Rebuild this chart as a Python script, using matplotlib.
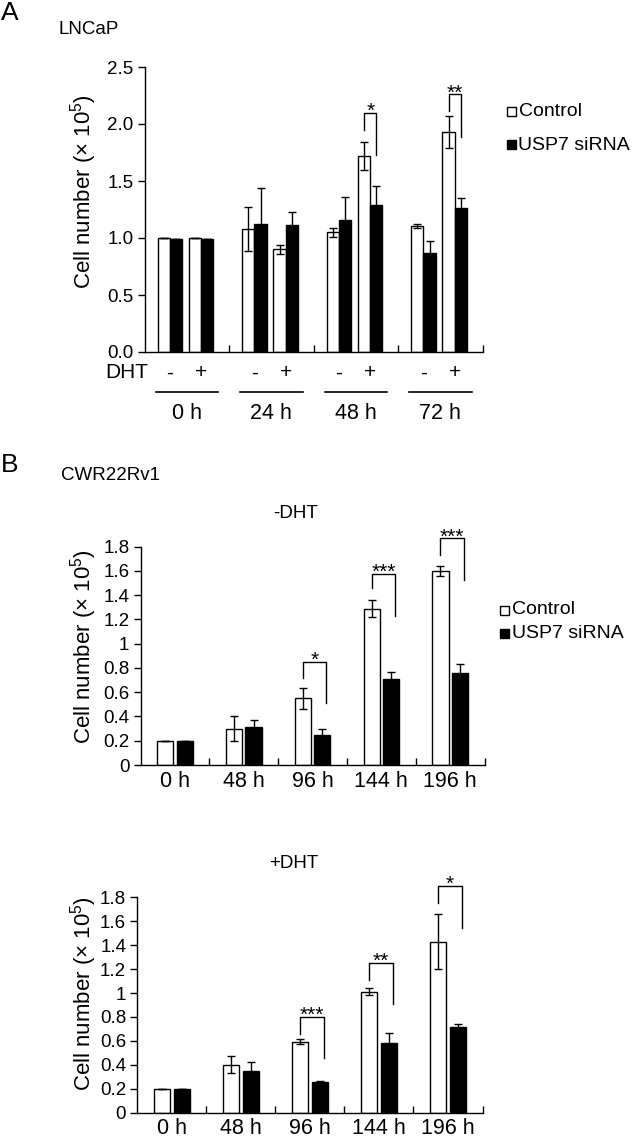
import numpy as np
import matplotlib
matplotlib.use('Agg')
import matplotlib.pyplot as plt
from matplotlib.patches import Rectangle
from matplotlib.lines import Line2D
from matplotlib.transforms import blended_transform_factory

plt.rcParams['font.family'] = ['Liberation Sans', 'DejaVu Sans']
plt.rcParams['mathtext.fontset'] = 'custom'
plt.rcParams['mathtext.rm'] = 'Liberation Sans'
plt.rcParams['mathtext.it'] = 'Liberation Sans:italic'
plt.rcParams['axes.linewidth'] = 1.0

# ---- data: panel A (LNCaP), order 0h-,0h+,24h-,24h+,48h-,48h+,72h-,72h+
a_times = ['0 h', '24 h', '48 h', '72 h']
a_dht = ['-', '+']
a_ctrl = [1.00, 1.00, 1.08, 0.90, 1.05, 1.72, 1.105, 1.93]
a_ctrl_err = [0, 0, 0.19, 0.04, 0.04, 0.12, 0.015, 0.14]
a_si = [0.99, 0.99, 1.12, 1.11, 1.16, 1.29, 0.87, 1.26]
a_si_err = [0, 0, 0.32, 0.12, 0.20, 0.17, 0.10, 0.09]
# (bar index, stars, bracket top, left end, right end)
a_sig = [(5, '*', 2.10, 1.95, 1.73), (7, '**', 2.26, 2.11, 1.89)]

# ---- data: panel B (CWR22Rv1)
b_times = ['0 h', '48 h', '96 h', '144 h', '196 h']
minus_ctrl = [0.20, 0.30, 0.55, 1.29, 1.60]
minus_ctrl_err = [0, 0.10, 0.085, 0.07, 0.04]
minus_si = [0.195, 0.31, 0.245, 0.705, 0.755]
minus_si_err = [0, 0.065, 0.055, 0.06, 0.075]
minus_sig = [(2, '*', 0.85, 0.72, 0.51), (3, '***', 1.575, 1.46, 1.23),
             (4, '***', 1.87, 1.73, 1.525)]

plus_ctrl = [0.20, 0.40, 0.593, 1.01, 1.43]
plus_ctrl_err = [0, 0.07, 0.023, 0.03, 0.23]
plus_si = [0.198, 0.35, 0.254, 0.58, 0.72]
plus_si_err = [0, 0.07, 0.015, 0.09, 0.025]
plus_sig = [(2, '***', 0.80, 0.655, 0.455), (3, '**', 1.253, 1.11, 0.91),
            (4, '*', 1.894, 1.75, 1.545)]

W, H = 633, 1139
fig = plt.figure(figsize=(W / 100, H / 100), dpi=100)

YLABEL = r'Cell number (× 10$^{5}$)'


def px_axes(left, top, right, bottom):
    return fig.add_axes([left / W, 1 - bottom / H, (right - left) / W, (bottom - top) / H])


def fx(px):
    return px / W


def fy(px):
    return 1 - px / H


def style_axes(ax):
    ax.spines['top'].set_visible(False)
    ax.spines['right'].set_visible(False)
    ax.tick_params(axis='y', direction='out', length=5, width=1, labelsize=13.5, pad=3)
    ax.tick_params(axis='x', which='major', direction='in', length=5, width=1)
    ax.tick_params(axis='x', which='minor', length=0)


def draw_pairs(ax, xc_ctrl, xc_si, width, ctrl, ctrl_err, si, si_err, capsize):
    ax.bar(xc_ctrl, ctrl, width, color='white', edgecolor='black', linewidth=1.0, zorder=2)
    ax.bar(xc_si, si, width, color='black', edgecolor='black', linewidth=1.0, zorder=2)
    ax.errorbar(xc_ctrl, ctrl, yerr=ctrl_err, fmt='none', ecolor='black',
                elinewidth=1.0, capsize=capsize, capthick=1.0, zorder=3)
    ax.errorbar(xc_si, si, yerr=si_err, fmt='none', ecolor='black',
                elinewidth=1.0, capsize=capsize, capthick=1.0, zorder=3)


def draw_sig(ax, xc_ctrl, xc_si, sig, right_shift, fs):
    for idx, stars, top, yl, yr in sig:
        x0 = xc_ctrl[idx]
        x1 = xc_si[idx] + right_shift
        ax.plot([x0, x0, x1, x1], [yl, top, top, yr], color='black', lw=1.0,
                clip_on=False, zorder=4)
        ax.annotate(stars, ((x0 + x1) / 2, top), xytext=(0, -3),
                    textcoords='offset points', ha='center', va='baseline',
                    fontsize=fs, annotation_clip=False)


def legend_block(x_sq, y1, y2, size=9):
    for yc, fc, label in [(y1, 'white', 'Control'), (y2, 'black', 'USP7 siRNA')]:
        fig.add_artist(Rectangle((fx(x_sq), fy(yc + size / 2)), size / W, size / H,
                                 transform=fig.transFigure, facecolor=fc,
                                 edgecolor='black', linewidth=1.0))
        fig.text(fx(x_sq + size + 3), fy(yc), label, fontsize=14, va='center', ha='left')


# ================= Panel A =================
axA = px_axes(144.6, 67, 482.6, 352)
style_axes(axA)
axA.set_xlim(0, 4)
axA.set_ylim(0, 2.5)
axA.set_yticks(np.arange(0, 2.51, 0.5))
axA.set_yticklabels(['%.1f' % v for v in np.arange(0, 2.51, 0.5)])
axA.set_xticks([1, 2, 3, 4])
axA.set_xticklabels([])

a_w = 0.145
pair_off = [-0.2, 0.17]
pair_x = np.array([i + 0.5 + pair_off[j] for i in range(len(a_times)) for j in range(2)])
a_xc = pair_x - a_w / 2
a_xs = pair_x + a_w / 2
draw_pairs(axA, a_xc, a_xs, a_w, a_ctrl, a_ctrl_err, a_si, a_si_err, 3.0)
draw_sig(axA, a_xc, a_xs, a_sig, 0.0, 15)

tA = blended_transform_factory(axA.transData, fig.transFigure)
for k, x in enumerate(pair_x):
    axA.text(x, fy(373), a_dht[k % 2], transform=tA, ha='center', va='center',
             fontsize=15)
for i, lab in enumerate(a_times):
    c = i + 0.5
    axA.add_line(Line2D([c - 0.37, c + 0.37], [fy(392), fy(392)], transform=tA,
                        color='black', lw=1.2, clip_on=False))
    axA.text(c, fy(413), lab, transform=tA, ha='center', va='center', fontsize=15.5)
fig.text(fx(126.5), fy(373), 'DHT', ha='center', va='center', fontsize=15)

fig.text(fx(84), fy(191.5), YLABEL, rotation=90, ha='center', va='center', fontsize=16)
fig.text(fx(1), fy(12.5), 'A', fontsize=19, ha='left', va='center')
fig.text(fx(58), fy(29), 'LNCaP', fontsize=13.5, ha='left', va='center')
legend_block(506.5, 111, 145)

# ================= Panel B =================
b_w = 0.235
b_off = 0.142


def panel_b(ax, ctrl, ctrl_err, si, si_err, sig):
    style_axes(ax)
    ax.set_xlim(0, 5)
    ax.set_ylim(0, 1.8)
    yt = np.round(np.arange(0, 1.81, 0.2), 1)
    ax.set_yticks(yt)
    ax.set_yticklabels(['%g' % v for v in yt])
    ax.set_xticks([1, 2, 3, 4, 5])
    ax.set_xticklabels([])
    centers = np.arange(len(b_times)) + 0.5
    ax.set_xticks(centers, minor=True)
    ax.set_xticklabels(b_times, minor=True, fontsize=15.5)
    ax.tick_params(axis='x', which='minor', pad=4)
    xc = centers - b_off
    xs = centers + b_off
    draw_pairs(ax, xc, xs, b_w, ctrl, ctrl_err, si, si_err, 3.0)
    draw_sig(ax, xc, xs, sig, 0.06, 15)


axB1 = px_axes(140.5, 546.7, 484.6, 765)
panel_b(axB1, minus_ctrl, minus_ctrl_err, minus_si, minus_si_err, minus_sig)
axB2 = px_axes(137.3, 897.3, 482.5, 1112.7)
panel_b(axB2, plus_ctrl, plus_ctrl_err, plus_si, plus_si_err, plus_sig)

fig.text(fx(84), fy(647), YLABEL, rotation=90, ha='center', va='center', fontsize=16)
fig.text(fx(84), fy(994), YLABEL, rotation=90, ha='center', va='center', fontsize=16)
fig.text(fx(1), fy(465), 'B', fontsize=19, ha='left', va='center')
fig.text(fx(60.5), fy(476), 'CWR22Rv1', fontsize=13.5, ha='left', va='center')
fig.text(fx(296), fy(513), '-DHT', fontsize=13.5, ha='center', va='center')
fig.text(fx(294), fy(863), '+DHT', fontsize=13.5, ha='center', va='center')
legend_block(500, 610, 633)

fig.savefig('out.png', dpi=100)
